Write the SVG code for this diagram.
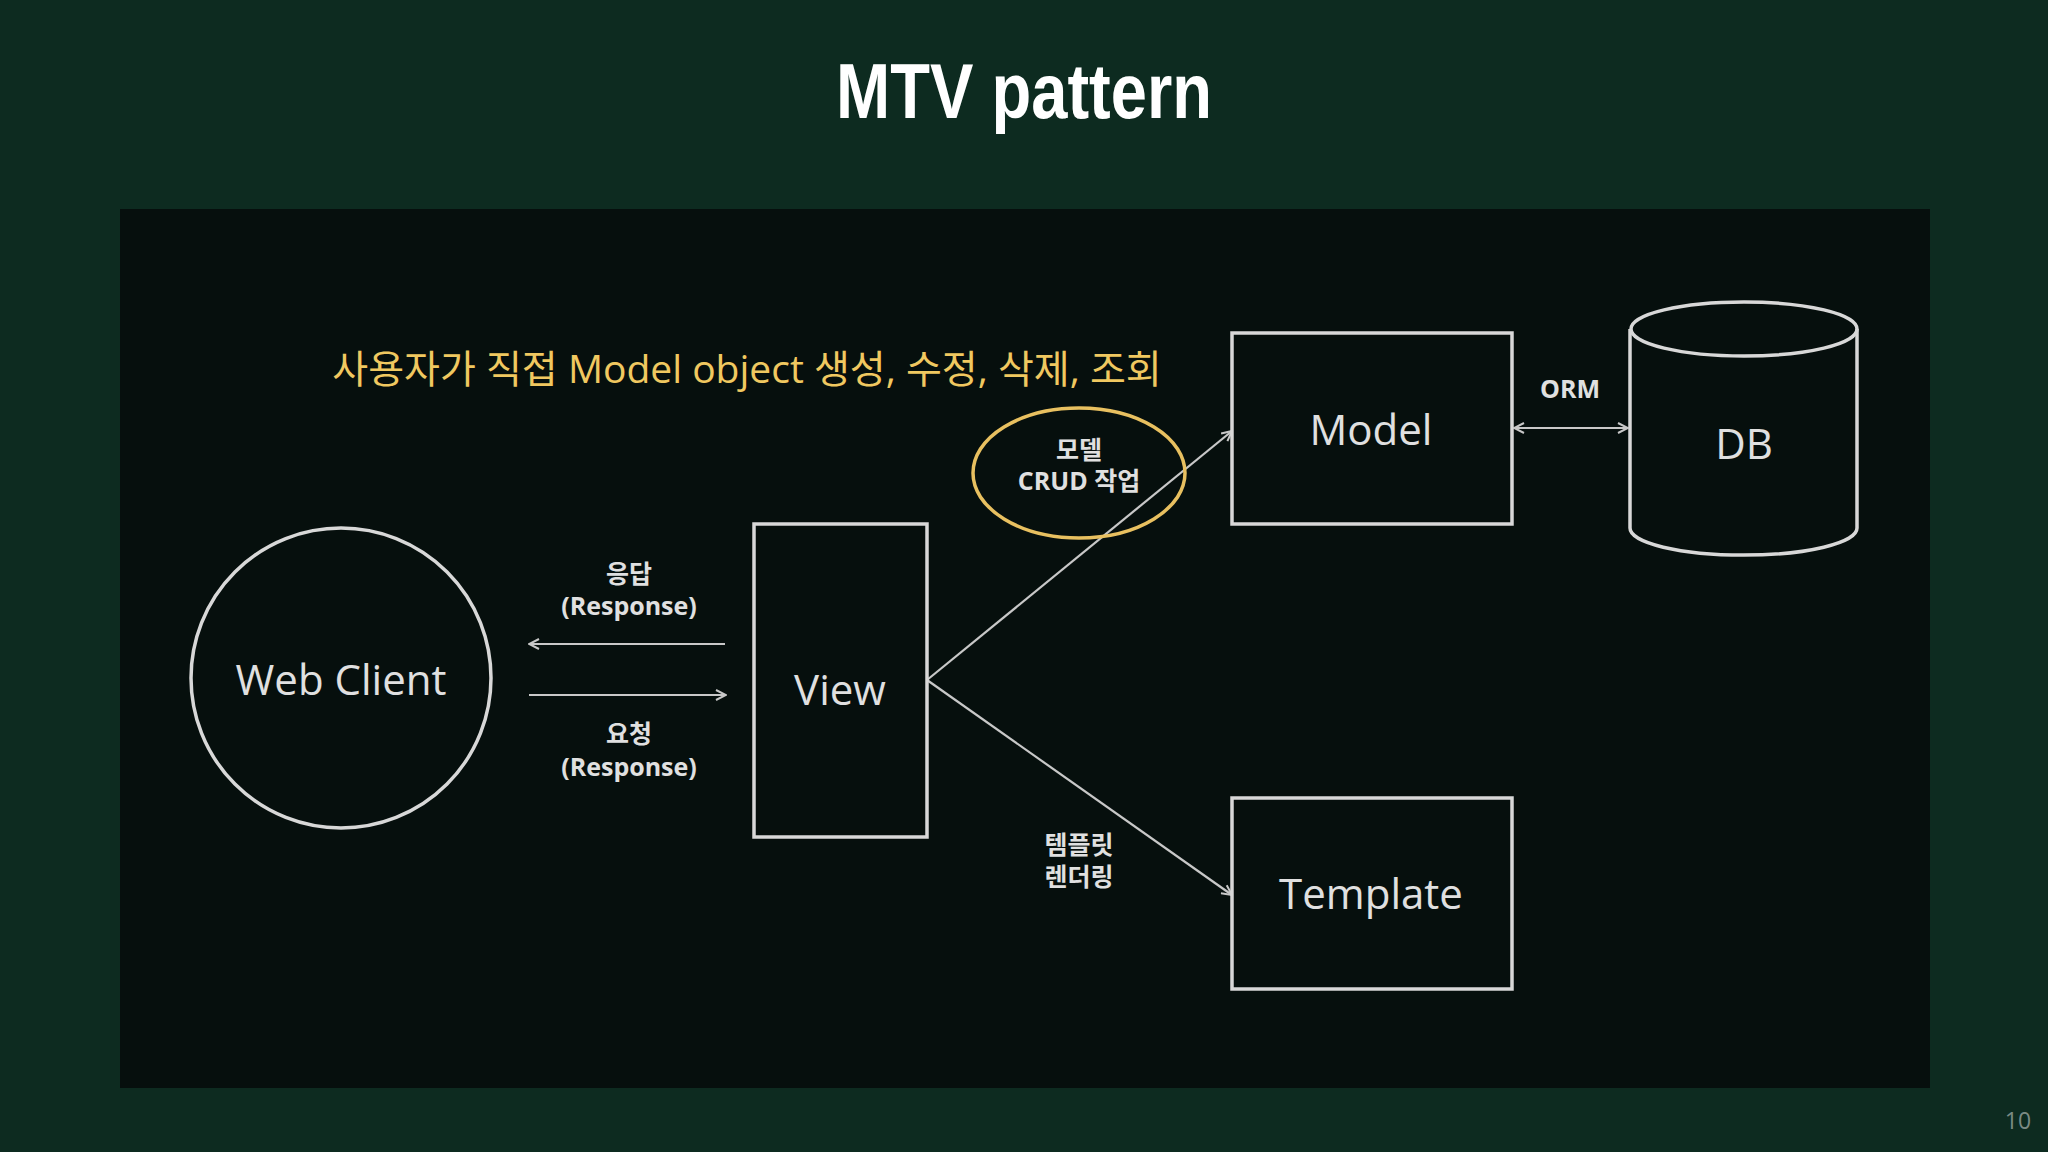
<svg xmlns="http://www.w3.org/2000/svg" width="2048" height="1152" viewBox="0 0 2048 1152">
<style>
.s{fill:none;stroke:#d8d8d8;stroke-width:3.5}
.t{fill:#e0e0e0;font-family:"Open Sans","Noto Sans CJK KR",sans-serif;text-anchor:middle}
.b{font-size:42px}
.l{font-size:25px;font-weight:bold}
.c{stroke:#c8c8c8;stroke-width:2.2;fill:none}
</style>
<defs>
<marker id="a" viewBox="0 0 12 12" refX="11" refY="6" markerWidth="12" markerHeight="12" markerUnits="userSpaceOnUse" orient="auto-start-reverse"><path d="M1,1 L11,6 L1,11" fill="none" stroke="#c8c8c8" stroke-width="2"/></marker>
</defs>
<rect width="2048" height="1152" fill="#0d2b20"/>
<text x="1024" y="118" text-anchor="middle" font-family="Liberation Sans,sans-serif" font-weight="bold" font-size="78" fill="#fff" textLength="376" lengthAdjust="spacingAndGlyphs">MTV pattern</text>
<rect x="120" y="209" width="1810" height="879" fill="#060f0d"/>
<text x="747" y="383" text-anchor="middle" font-family="Open Sans,Noto Sans CJK KR,sans-serif" font-size="39" fill="#f0c860">사용자가 직접 Model object 생성, 수정, 삭제, 조회</text>
<g id="connectors">
<line class="c" x1="725" y1="644" x2="529" y2="644" marker-end="url(#a)"/>
<line class="c" x1="529" y1="695" x2="726" y2="695" marker-end="url(#a)"/>
<line class="c" x1="927" y1="680" x2="1232" y2="431" marker-end="url(#a)"/>
<line class="c" x1="927" y1="680" x2="1232" y2="895" marker-end="url(#a)"/>
<line class="c" x1="1514" y1="428" x2="1628" y2="428" marker-start="url(#a)" marker-end="url(#a)"/>
<text class="t l" x="629" y="583">응답</text>
<text class="t l" x="629" y="615">(Response)</text>
<text class="t l" x="629" y="743">요청</text>
<text class="t l" x="629" y="776">(Response)</text>
<text class="t l" x="1570" y="398">ORM</text>
<text class="t l" x="1079" y="854">템플릿</text>
<text class="t l" x="1079" y="886">렌더링</text>
</g>
<g id="client"><circle class="s" cx="341" cy="678" r="150"/><text class="t b" x="341" y="695">Web Client</text></g>
<g id="view"><rect class="s" x="754" y="524" width="173" height="313"/><text class="t b" x="840" y="705">View</text></g>
<g id="model"><rect class="s" x="1232" y="333" width="280" height="191"/><text class="t b" x="1371" y="445">Model</text></g>
<g id="template"><rect class="s" x="1232" y="798" width="280" height="191"/><text class="t b" x="1371" y="909">Template</text></g>
<g id="db"><path class="s" d="M1630,329 V528 A113,27 0 0 0 1857,528 V329"/><ellipse class="s" cx="1744" cy="329" rx="113" ry="27"/><text class="t b" x="1744" y="459">DB</text></g>
<g id="crud"><ellipse cx="1079" cy="473" rx="106" ry="65" fill="none" stroke="#e8c060" stroke-width="3.5"/><text class="t l" x="1079" y="459">모델</text><text class="t l" x="1079" y="490">CRUD 작업</text></g>
<text x="2018" y="1129" text-anchor="middle" font-family="Open Sans,sans-serif" font-size="23" fill="#7a8a84">10</text>
</svg>
